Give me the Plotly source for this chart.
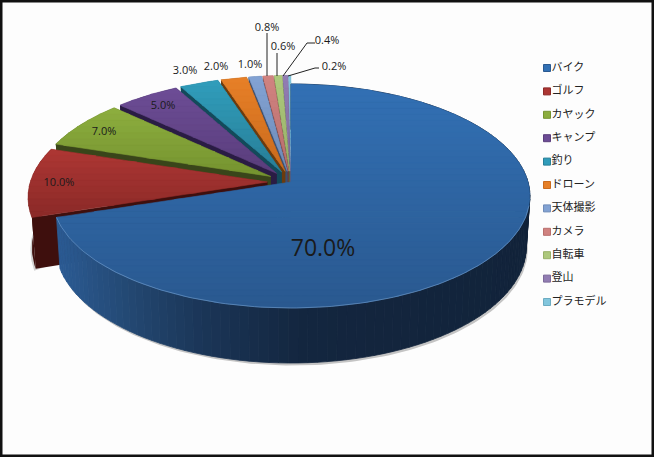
import math
import plotly.graph_objects as go

# ---- data ----
categories = ["バイク", "ゴルフ", "カヤック", "キャンプ", "釣り", "ドローン", "天体撮影", "カメラ", "自転車", "登山", "プラモデル"]
shares = [70.0, 10.0, 7.0, 5.0, 3.0, 2.0, 1.0, 0.8, 0.6, 0.4, 0.2]

# ---- style ----
top_light = ["#3270b4", "#ac3633", "#8cad3e", "#6c4c95", "#309cba", "#e67f27", "#82a2d3", "#d08280", "#adc87c", "#927db3", "#82c6dd"]
top_dark = ["#2a5990", "#8c2a28", "#769430", "#5a3e7c", "#287f98", "#ca6b1d", "#6f8cb8", "#b86f6d", "#98b068", "#7c6a9a", "#6cacc2"]
wall = ["#13263f", "#3e0f0d", "#39451a", "#2a1c44", "#134a5a", "#6b3b0e", "#3d4f6e", "#6b3a39", "#56663a", "#43385c", "#8a9aa0"]
blue_wall_stops = [(55, "#2c5c96"), (130, "#234872"), (200, "#1b3658"), (300, "#13263f"), (530, "#12233a")]

CX, CY = 291.0, 182.0
R, B, K = 237.0, 110.25, 0.125
DEPTH, SHRINK = 50.5, 1.015
EXPLODE = 0.1

label_pos = [(323, 250), (59, 183), (104, 132), (163, 106), (185, 71), (216, 67),
             (250, 65), (267, 28), (283, 47), (327, 41), (334, 67)]
label_size = [23] + [11] * 10
leaders = [[(267, 33), (267, 76)], [(277, 53), (277, 76)],
           [(283, 76), (307, 43), (315, 43)], [(288, 76), (315, 68), (319, 68)]]


def h2r(c):
    return tuple(int(c[i:i + 2], 16) for i in (1, 3, 5))


def lerp(a, b, t):
    ra, rb = h2r(a), h2r(b)
    return "rgb(%d,%d,%d)" % tuple(round(x + (y - x) * t) for x, y in zip(ra, rb))


def project(u, v, low=False):
    w = 1 + K * v
    if low:
        w *= SHRINK
        return CX + R * u / w, CY + (-B * v + DEPTH) / w
    return CX + R * u / w, CY - B * v / w


def clip_band(poly, y0, y1):
    def clip(pts, keep, cross):
        out = []
        for i, p in enumerate(pts):
            q = pts[i - 1]
            if keep(p):
                if not keep(q):
                    out.append(cross(q, p))
                out.append(p)
            elif keep(q):
                out.append(cross(q, p))
        return out

    def at(level):
        return lambda a, b: (a[0] + (b[0] - a[0]) * (level - a[1]) / (b[1] - a[1]), level)

    res = clip(poly, lambda p: p[1] >= y0, at(y0))
    if res:
        res = clip(res, lambda p: p[1] <= y1, at(y1))
    return res


fig = go.Figure()


def add_poly(pts, color, seam=0.0):
    xs = [p[0] for p in pts] + [pts[0][0]]
    ys = [p[1] for p in pts] + [pts[0][1]]
    fig.add_trace(go.Scatter(x=xs, y=ys, mode="lines", fill="toself", fillcolor=color,
                             line=dict(width=seam, color=color), hoverinfo="skip", showlegend=False))


# slice angles (clockwise from 12 o'clock), taken from the values
total = sum(shares)
spans = []
acc = 0.0
for s in shares:
    spans.append((acc / total * 2 * math.pi, (acc + s) / total * 2 * math.pi))
    acc += s


def plane_points(i, low=False, steps=None):
    a0, a1 = spans[i]
    d = 0.0 if i == 0 else EXPLODE
    mid = (a0 + a1) / 2
    ou, ov = d * math.sin(mid), d * math.cos(mid)
    n = steps or max(3, int((a1 - a0) * 60))
    arc = [project(ou + math.sin(a0 + (a1 - a0) * k / n), ov + math.cos(a0 + (a1 - a0) * k / n), low)
           for k in range(n + 1)]
    return project(ou, ov, low), arc


# soft shadow under the pie body
_, shadow_arc = plane_points(0, True, 200)
add_poly([(x + 1.5, y + 2.5) for x, y in shadow_arc] + [(CX, CY)], "rgba(110,110,110,0.4)")
_, red_low = plane_points(1, True, 40)
add_poly([(x - 1.5, y + 2) for x, y in red_low] + [(CX, CY)], "rgba(110,110,110,0.3)")

# back slices first, the largest slice last
for i in list(range(len(shares) - 1, 0, -1)) + [0]:
    c_top, arc_top = plane_points(i, False, 120 if i == 0 else None)
    c_low, arc_low = plane_points(i, True, 120 if i == 0 else None)
    if i == 0:
        for k in range(len(arc_top) - 1):
            xm = (arc_low[k][0] + arc_low[k + 1][0]) / 2
            col = blue_wall_stops[-1][1]
            for (x0, c0), (x1, c1) in zip(blue_wall_stops, blue_wall_stops[1:]):
                if x0 <= xm <= x1:
                    col = lerp(c0, c1, (xm - x0) / (x1 - x0))
                    break
            add_poly([arc_top[k], arc_top[k + 1], arc_low[k + 1], arc_low[k]], col, 0.8)
    else:
        add_poly([c_top, arc_top[0], arc_low[0], c_low], wall[i])
        add_poly([c_top, arc_top[-1], arc_low[-1], c_low], wall[i])
        add_poly(arc_top + arc_low[::-1], wall[i])
    poly = [c_top] + arc_top
    ymin = min(p[1] for p in poly)
    ymax = max(p[1] for p in poly)
    bands = max(4, int((ymax - ymin) / 6))
    for b in range(bands):
        y0 = ymin + (ymax - ymin) * b / bands
        y1 = ymin + (ymax - ymin) * (b + 1) / bands + 0.6
        part = clip_band(poly, y0, y1)
        if len(part) >= 3:
            add_poly(part, lerp(top_light[i], top_dark[i], b / max(1, bands - 1)), 0.6)

# light rim on the front of the big slice
_, rim = plane_points(0, False, 200)
rim = [p for p in rim if p[1] > 205]
fig.add_trace(go.Scatter(x=[p[0] for p in rim], y=[p[1] for p in rim], mode="lines",
                         line=dict(width=1, color="rgba(120,165,215,0.55)"),
                         hoverinfo="skip", showlegend=False))

# leader lines
for seg in leaders:
    fig.add_trace(go.Scatter(x=[p[0] for p in seg], y=[p[1] for p in seg], mode="lines",
                             line=dict(width=1, color="#222222"), hoverinfo="skip", showlegend=False))

# percentage labels
for s, pos, size in zip(shares, label_pos, label_size):
    fig.add_trace(go.Scatter(x=[pos[0]], y=[pos[1]], mode="text", text=["%.1f%%" % s],
                             textposition="middle center",
                             textfont=dict(family="Open Sans, Noto Sans", size=size, color="#1a1a1a"),
                             hoverinfo="skip", showlegend=False))

# legend
for i, name in enumerate(categories):
    ly = 68 + i * 23.4
    fig.add_trace(go.Scatter(x=[547], y=[ly], mode="markers",
                             marker=dict(symbol="square", size=7, color=top_light[i],
                                         line=dict(width=1, color=top_dark[i])),
                             hoverinfo="skip", showlegend=False))
    fig.add_trace(go.Scatter(x=[551.5], y=[ly], mode="text", text=[name], textposition="middle right",
                             textfont=dict(family="Noto Sans CJK JP", size=11, color="#222222"),
                             hoverinfo="skip", showlegend=False))

fig.update_layout(
    width=654, height=457, margin=dict(l=0, r=0, t=0, b=0),
    paper_bgcolor="#fdfdfd", plot_bgcolor="#fdfdfd", showlegend=False,
    xaxis=dict(range=[0, 654], visible=False, fixedrange=True),
    yaxis=dict(range=[457, 0], visible=False, fixedrange=True),
    shapes=[dict(type="rect", xref="paper", yref="paper", x0=0, x1=1, y0=0, y1=1,
                 line=dict(color="#111111", width=5), fillcolor="rgba(0,0,0,0)")],
)
fig.write_html("out.html", config={"displayModeBar": False},
               post_script="document.body.style.margin='0';document.documentElement.style.overflow='hidden';")
